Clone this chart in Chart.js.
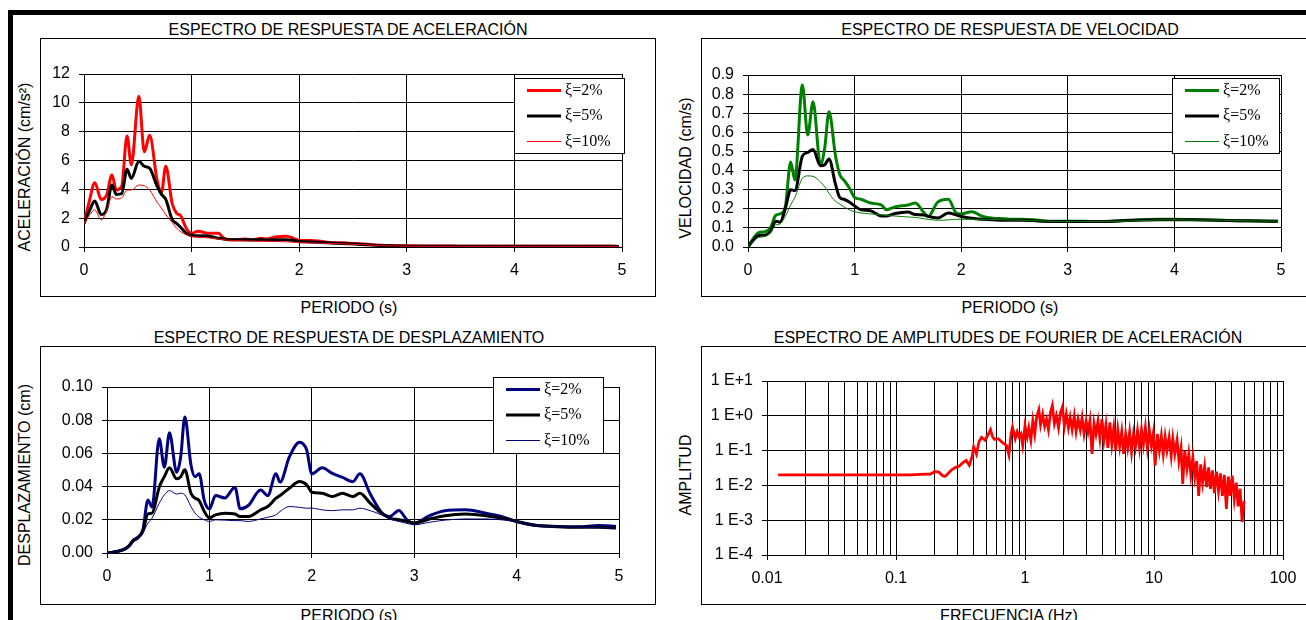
<!DOCTYPE html>
<html lang="es">
<head>
<meta charset="utf-8">
<title>Espectros de respuesta y espectro de Fourier</title>
<script src="https://cdn.jsdelivr.net/npm/chart.js@4.4.1/dist/chart.umd.min.js"></script>
<style>
  html, body { margin: 0; padding: 0; background: #fff; overflow: hidden; }
  body { position: relative; width: 1306px; height: 620px; font-family: "Liberation Sans", Arial, sans-serif; font-size: 16px; color: #000; }
  #marco { position: absolute; left: 8px; top: 10px; width: 1400px; height: 700px; border-top: 5px solid #000; border-left: 5px solid #000; }
  .caja { position: absolute; border: 1px solid #000; box-sizing: border-box; }
  .caja canvas { position: absolute; left: 0; top: 0; }
  .texto { position: absolute; white-space: nowrap; line-height: 1; transform: translate(-50%, -50%); }
  .vertical { transform: translate(-50%, -50%) rotate(-90deg); }
</style>
</head>
<body>
<div id="marco"></div>

<!-- Aceleracion -->
<div class="texto" style="left:348px; top:30px">ESPECTRO DE RESPUESTA DE ACELERACIÓN</div>
<div class="caja" style="left:40px; top:38px; width:616px; height:259px">
  <canvas id="graficoAceleracion" width="614" height="257"></canvas>
</div>
<div class="texto vertical" style="left:25px; top:167px">ACELERACIÓN (cm/s²)</div>
<div class="texto" style="left:349px; top:308px">PERIODO (s)</div>

<!-- Velocidad -->
<div class="texto" style="left:1010px; top:30px">ESPECTRO DE RESPUESTA DE VELOCIDAD</div>
<div class="caja" style="left:701px; top:38px; width:618px; height:259px">
  <canvas id="graficoVelocidad" width="616" height="257"></canvas>
</div>
<div class="texto vertical" style="left:686px; top:168px">VELOCIDAD (cm/s)</div>
<div class="texto" style="left:1010px; top:308px">PERIODO (s)</div>

<!-- Desplazamiento -->
<div class="texto" style="left:349px; top:338px">ESPECTRO DE RESPUESTA DE DESPLAZAMIENTO</div>
<div class="caja" style="left:40px; top:346px; width:616px; height:259px">
  <canvas id="graficoDesplazamiento" width="614" height="257"></canvas>
</div>
<div class="texto vertical" style="left:25px; top:475px">DESPLAZAMIENTO (cm)</div>
<div class="texto" style="left:349px; top:616px">PERIODO (s)</div>

<!-- Fourier -->
<div class="texto" style="left:1008px; top:338px">ESPECTRO DE AMPLITUDES DE FOURIER DE ACELERACIÓN</div>
<div class="caja" style="left:701px; top:346px; width:618px; height:259px">
  <canvas id="graficoFourier" width="616" height="257"></canvas>
</div>
<div class="texto vertical" style="left:686px; top:475px">AMPLITUD</div>
<div class="texto" style="left:1009px; top:616px">FRECUENCIA (Hz)</div>

<script>
// Periodos (s) comunes a los tres espectros de respuesta
const periodos = [0, 0.05, 0.10, 0.16, 0.21, 0.26, 0.30, 0.35, 0.40, 0.44, 0.51, 0.56, 0.61, 0.68, 0.72, 0.76, 0.82, 0.86, 0.90, 0.95,
  1.00, 1.06, 1.15, 1.25, 1.30, 1.38, 1.50, 1.57, 1.65, 1.69, 1.78, 1.88, 1.95, 2.00, 2.10, 2.20, 2.30, 2.40, 2.47, 2.57,
  2.68, 2.76, 2.85, 2.93, 3.00, 3.15, 3.30, 3.50, 3.70, 3.85, 4.00, 4.20, 4.40, 4.60, 4.80, 4.97];

const etiquetasAmort = ["ξ=2%", "ξ=5%", "ξ=10%"];

// Aceleracion (cm/s2)
const acel2 = [1.64, 3.2, 4.46, 3.3, 3.6, 5.0, 3.95, 4.2, 7.7, 5.7, 10.45, 6.6, 7.75, 4.6, 3.8, 5.6, 3.0, 2.35, 2.15, 1.3,
  0.95, 1.1, 0.95, 0.95, 0.6, 0.5, 0.55, 0.5, 0.6, 0.55, 0.7, 0.75, 0.6, 0.45, 0.45, 0.4, 0.3, 0.3, 0.25, 0.22,
  0.15, 0.12, 0.1, 0.09, 0.08, 0.07, 0.07, 0.06, 0.06, 0.05, 0.06, 0.05, 0.05, 0.05, 0.05, 0.04];
const acel5 = [1.64, 2.5, 3.19, 2.25, 2.6, 4.3, 3.65, 3.7, 5.39, 4.76, 5.95, 5.6, 5.46, 4.2, 3.65, 3.3, 1.9, 1.64, 1.35, 0.95,
  0.8, 0.78, 0.76, 0.6, 0.55, 0.5, 0.5, 0.5, 0.5, 0.48, 0.5, 0.5, 0.45, 0.38, 0.35, 0.32, 0.28, 0.25, 0.22, 0.18,
  0.13, 0.1, 0.08, 0.07, 0.06, 0.06, 0.05, 0.05, 0.05, 0.05, 0.05, 0.05, 0.05, 0.05, 0.05, 0.04];
const acel10 = [1.64, 2.2, 2.57, 1.87, 2.5, 3.49, 3.33, 3.4, 3.95, 3.95, 4.3, 4.25, 3.95, 3.1, 2.7, 2.25, 1.7, 1.3, 1.05, 0.85,
  0.72, 0.68, 0.63, 0.55, 0.5, 0.45, 0.42, 0.4, 0.4, 0.4, 0.38, 0.36, 0.33, 0.3, 0.28, 0.26, 0.24, 0.22, 0.2, 0.17,
  0.13, 0.1, 0.08, 0.07, 0.06, 0.05, 0.05, 0.05, 0.05, 0.05, 0.05, 0.05, 0.05, 0.05, 0.05, 0.04];

// Velocidad (cm/s)
const vel2 = [0, 0.045, 0.075, 0.08, 0.1, 0.165, 0.173, 0.21, 0.445, 0.35, 0.848, 0.586, 0.76, 0.43, 0.52, 0.708, 0.48, 0.38, 0.35, 0.31,
  0.26, 0.25, 0.23, 0.22, 0.195, 0.21, 0.22, 0.23, 0.18, 0.16, 0.235, 0.25, 0.18, 0.173, 0.185, 0.16, 0.15, 0.148, 0.145, 0.145,
  0.143, 0.138, 0.135, 0.135, 0.135, 0.135, 0.133, 0.138, 0.143, 0.145, 0.145, 0.143, 0.14, 0.138, 0.136, 0.135];
const vel5 = [0, 0.035, 0.06, 0.062, 0.08, 0.135, 0.13, 0.2, 0.3, 0.295, 0.475, 0.495, 0.51, 0.425, 0.43, 0.46, 0.33, 0.26, 0.25, 0.235,
  0.215, 0.195, 0.19, 0.162, 0.162, 0.175, 0.183, 0.17, 0.168, 0.16, 0.152, 0.178, 0.168, 0.16, 0.15, 0.145, 0.142, 0.14, 0.14, 0.14,
  0.138, 0.135, 0.133, 0.133, 0.133, 0.134, 0.133, 0.137, 0.141, 0.143, 0.143, 0.142, 0.14, 0.138, 0.136, 0.135];
const vel10 = [0, 0.03, 0.05, 0.055, 0.075, 0.115, 0.12, 0.16, 0.22, 0.26, 0.36, 0.372, 0.37, 0.34, 0.315, 0.28, 0.24, 0.225, 0.21, 0.195,
  0.185, 0.178, 0.173, 0.168, 0.165, 0.162, 0.157, 0.155, 0.148, 0.145, 0.14, 0.142, 0.145, 0.145, 0.145, 0.145, 0.144, 0.142, 0.141, 0.14,
  0.138, 0.136, 0.134, 0.133, 0.133, 0.133, 0.133, 0.135, 0.139, 0.141, 0.142, 0.141, 0.14, 0.138, 0.136, 0.135];

// Desplazamiento (cm)
const desp2 = [0, 0.0003, 0.001, 0.002, 0.004, 0.008, 0.0095, 0.014, 0.032, 0.0276, 0.0688, 0.0517, 0.0724, 0.0487, 0.058, 0.082, 0.053, 0.046, 0.0477, 0.0316,
  0.0266, 0.0346, 0.0332, 0.0396, 0.0266, 0.0286, 0.038, 0.0346, 0.0477, 0.0427, 0.0577, 0.0667, 0.062, 0.0477, 0.0513, 0.048, 0.0455, 0.043, 0.0477, 0.0357,
  0.0246, 0.022, 0.0256, 0.02, 0.018, 0.0225, 0.0255, 0.026, 0.024, 0.022, 0.019, 0.0165, 0.016, 0.0158, 0.0165, 0.016];
const desp5 = [0, 0.0003, 0.001, 0.002, 0.004, 0.0075, 0.009, 0.013, 0.0236, 0.024, 0.0396, 0.046, 0.0513, 0.0447, 0.046, 0.0501, 0.036, 0.033, 0.0316, 0.025,
  0.0212, 0.023, 0.024, 0.0235, 0.022, 0.022, 0.026, 0.028, 0.033, 0.0346, 0.039, 0.043, 0.041, 0.0366, 0.036, 0.034, 0.036, 0.034, 0.036, 0.03,
  0.024, 0.021, 0.02, 0.019, 0.018, 0.0205, 0.0225, 0.0235, 0.0225, 0.021, 0.019, 0.0165, 0.0158, 0.0155, 0.0155, 0.015];
const desp10 = [0, 0.0003, 0.001, 0.002, 0.004, 0.007, 0.0085, 0.012, 0.018, 0.021, 0.03, 0.035, 0.0376, 0.0355, 0.036, 0.035, 0.028, 0.024, 0.0216, 0.02,
  0.019, 0.02, 0.0198, 0.0195, 0.0195, 0.019, 0.0205, 0.0215, 0.023, 0.025, 0.028, 0.0275, 0.027, 0.027, 0.026, 0.0255, 0.026, 0.026, 0.027, 0.0255,
  0.023, 0.0205, 0.019, 0.0178, 0.017, 0.0185, 0.0198, 0.0205, 0.0205, 0.02, 0.019, 0.0165, 0.0158, 0.0155, 0.0152, 0.015];

// Espectro de Fourier: frecuencia (Hz) y amplitud
const frecuencias = [0.0122, 0.05, 0.10, 0.13, 0.17, 0.185, 0.20, 0.215, 0.23, 0.24, 0.25, 0.27, 0.29, 0.31, 0.33, 0.35, 0.37, 0.39, 0.40, 0.42,
  0.44, 0.46, 0.49, 0.52, 0.54, 0.56, 0.58, 0.62, 0.67, 0.72, 0.75, 0.78, 0.80, 0.84, 0.87, 0.90, 0.93, 0.96,
  1.00, 1.04, 1.07, 1.11, 1.15, 1.19, 1.23, 1.28, 1.32, 1.37, 1.42, 1.47, 1.52, 1.58, 1.63, 1.69, 1.75, 1.82, 1.88, 1.95,
  2.02, 2.09, 2.17, 2.24, 2.32, 2.41, 2.49, 2.58, 2.68, 2.77, 2.87, 2.98, 3.08, 3.19, 3.31, 3.43, 3.55, 3.68, 3.81, 3.95,
  4.09, 4.24, 4.39, 4.55, 4.71, 4.88, 5.05, 5.24, 5.42, 5.62, 5.82, 6.03, 6.25, 6.47, 6.70, 6.94, 7.19, 7.45, 7.72, 8.00,
  8.28, 8.58, 8.89, 9.21, 9.54, 9.88, 10.2, 10.6, 11.0, 11.4, 11.8, 12.2, 12.6, 13.1, 13.6, 14.0, 14.5, 15.1, 15.6, 16.2,
  16.7, 17.3, 18.0, 18.6, 19.3, 20.0, 20.7, 21.4, 22.2, 23.0, 23.8, 24.7, 25.6, 26.5, 27.4, 28.4, 29.4, 30.5, 31.6, 32.7,
  33.9, 35.1, 36.4, 37.7, 39.0, 40.4, 41.9, 43.4, 44.9, 46.5, 48.2, 49.9];
const amplitudes = [0.02, 0.02, 0.02, 0.02, 0.021, 0.021, 0.025, 0.024, 0.019, 0.018, 0.021, 0.028, 0.033, 0.036, 0.045, 0.052, 0.038, 0.07, 0.13, 0.08,
  0.18, 0.24, 0.2, 0.3, 0.4, 0.25, 0.21, 0.22, 0.17, 0.14, 0.075, 0.3, 0.47, 0.22, 0.35, 0.25, 0.3, 0.14,
  0.52, 0.25, 0.45, 0.2, 0.72, 0.3, 0.9, 1.5, 0.55, 1.1, 0.5, 0.8, 0.4, 1.3, 2.0, 0.6, 1.0, 0.45, 1.2, 1.8,
  0.5, 1.1, 0.45, 0.9, 0.4, 1.0, 0.35, 0.8, 0.4, 0.9, 0.3, 0.7, 0.35, 0.75, 0.08, 0.6, 0.3, 0.7, 0.22, 0.8,
  0.2, 0.55, 0.12, 0.65, 0.15, 0.45, 0.1, 0.4, 0.13, 0.35, 0.08, 0.3, 0.12, 0.34, 0.09, 0.3, 0.13, 0.38, 0.12, 0.4,
  0.15, 0.47, 0.12, 0.38, 0.14, 0.32, 0.037, 0.3, 0.1, 0.27, 0.08, 0.25, 0.1, 0.24, 0.07, 0.22, 0.08, 0.2, 0.05, 0.12,
  0.011, 0.1, 0.03, 0.08, 0.02, 0.065, 0.018, 0.05, 0.005, 0.04, 0.012, 0.035, 0.009, 0.033, 0.008, 0.027, 0.006, 0.025, 0.007, 0.022,
  0.005, 0.02, 0.0021, 0.018, 0.005, 0.019, 0.004, 0.012, 0.0025, 0.008, 0.0009, 0.0036];

// Ejes logaritmicos del espectro de Fourier
const decadasFrecuencia = [0.01, 0.1, 1, 10, 100];
const etiquetasFrecuencia = ["0.01", "0.1", "1", "10", "100"];
const decadasAmplitud = [1e-4, 1e-3, 1e-2, 1e-1, 1, 10];
const etiquetasAmplitud = ["1 E-4", "1 E-3", "1 E-2", "1 E-1", "1 E+0", "1 E+1"];

Chart.defaults.font.family = '"Liberation Sans", Arial, sans-serif';
Chart.defaults.font.size = 16;
Chart.defaults.color = "#000";

function puntos(xs, ys) {
  return xs.map((x, i) => ({ x: x, y: ys[i] }));
}

// Leyenda dibujada dentro del grafico, como en Excel
const leyendaInterna = {
  id: "leyendaInterna",
  afterDatasetsDraw(chart, args, op) {
    if (!op || op.x === undefined) return;
    const ctx = chart.ctx;
    ctx.save();
    ctx.fillStyle = "#fff";
    ctx.fillRect(op.x, op.y, op.ancho, op.alto);
    ctx.strokeStyle = "#000";
    ctx.lineWidth = 1;
    ctx.strokeRect(op.x + 0.5, op.y + 0.5, op.ancho - 1, op.alto - 1);
    ctx.font = '16px "Liberation Serif", "Times New Roman", serif';
    ctx.textBaseline = "middle";
    chart.data.datasets.forEach((ds, i) => {
      const yy = op.y + 12.5 + i * 25.5;
      ctx.strokeStyle = ds.borderColor;
      ctx.lineWidth = ds.borderWidth;
      ctx.beginPath();
      ctx.moveTo(op.x + 13, yy);
      ctx.lineTo(op.x + 47, yy);
      ctx.stroke();
      ctx.fillStyle = "#000";
      ctx.fillText(ds.label, op.x + 51, yy);
    });
    ctx.restore();
  },
};

function graficarEspectro(idCanvas, series, color, ejeY, area, leyenda) {
  const grosores = [3, 3, 1];
  const datasets = series.map((serie, i) => ({
    label: etiquetasAmort[i],
    data: puntos(periodos, serie),
    borderColor: i === 1 ? "#000000" : color,
    borderWidth: grosores[i],
    pointRadius: 0,
    cubicInterpolationMode: "monotone",
    order: 3 - i,
  }));

  new Chart(document.getElementById(idCanvas), {
    type: "line",
    data: { datasets: datasets },
    plugins: [leyendaInterna],
    options: {
      responsive: false,
      animation: false,
      events: [],
      layout: { padding: { top: area.arriba, right: area.derecha, left: 0, bottom: 0 } },
      plugins: {
        legend: { display: false },
        tooltip: { enabled: false },
        leyendaInterna: leyenda,
      },
      scales: {
        x: {
          type: "linear",
          min: 0,
          max: 5,
          ticks: { stepSize: 1, padding: 9, maxRotation: 0, autoSkip: false },
          grid: { color: "#000", tickLength: 5 },
          border: { color: "#000" },
          afterFit: (escala) => { escala.height = area.abajo; },
        },
        y: {
          type: "linear",
          min: 0,
          max: ejeY.max,
          ticks: { stepSize: ejeY.paso, padding: 9, autoSkip: false, callback: (v) => Number(v).toFixed(ejeY.decimales) },
          grid: { color: "#000", tickLength: 5 },
          border: { color: "#000" },
          afterFit: (escala) => { escala.width = area.izquierda; },
        },
      },
    },
  });
}

function graficarFourier() {
  // lineas de division 1..9 por decada
  const lineasFrecuencia = [];
  decadasFrecuencia.forEach((d) => {
    for (let k = 1; k <= 9; k++) {
      if (d * k <= 100) lineasFrecuencia.push(Number((d * k).toPrecision(3)));
    }
  });

  new Chart(document.getElementById("graficoFourier"), {
    type: "line",
    data: {
      datasets: [{
        label: "Amplitud",
        data: puntos(frecuencias, amplitudes),
        borderColor: "#FF0000",
        borderWidth: 2.75,
        pointRadius: 0,
        tension: 0,
      }],
    },
    options: {
      responsive: false,
      animation: false,
      events: [],
      layout: { padding: { top: 34, right: 35, left: 0, bottom: 0 } },
      plugins: { legend: { display: false }, tooltip: { enabled: false } },
      scales: {
        x: {
          type: "logarithmic",
          min: 0.01,
          max: 100,
          afterBuildTicks: (escala) => {
            escala.ticks = lineasFrecuencia.map((v) => ({
              value: v,
              major: decadasFrecuencia.some((d) => Math.abs(v / d - 1) < 1e-6),
            }));
          },
          ticks: {
            autoSkip: false,
            maxRotation: 0,
            padding: 9,
            callback: (v) => {
              const i = decadasFrecuencia.findIndex((d) => Math.abs(v / d - 1) < 1e-6);
              return i >= 0 ? etiquetasFrecuencia[i] : "";
            },
          },
          grid: {
            color: "#000",
            tickLength: 5,
            tickColor: (c) => (c.tick && c.tick.major ? "#000" : "rgba(0,0,0,0)"),
          },
          border: { color: "#000" },
          afterFit: (escala) => { escala.height = 49; },
        },
        y: {
          type: "logarithmic",
          min: 1e-4,
          max: 10,
          afterBuildTicks: (escala) => {
            escala.ticks = decadasAmplitud.map((v) => ({ value: v }));
          },
          ticks: { autoSkip: false, padding: 9, callback: (v, i) => etiquetasAmplitud[i] },
          grid: { color: "#000", tickLength: 5 },
          border: { color: "#000" },
          afterFit: (escala) => { escala.width = 65; },
        },
      },
    },
  });
}

graficarEspectro("graficoAceleracion", [acel2, acel5, acel10], "#FF0000",
  { max: 12, paso: 2, decimales: 0 },
  { izquierda: 43, arriba: 35, derecha: 33, abajo: 49 },
  { x: 473, y: 39, ancho: 111, alto: 76 });

graficarEspectro("graficoVelocidad", [vel2, vel5, vel10], "#008000",
  { max: 0.9, paso: 0.1, decimales: 1 },
  { izquierda: 46, arriba: 36, derecha: 37, abajo: 49 },
  { x: 470, y: 39, ancho: 108, alto: 76 });

graficarEspectro("graficoDesplazamiento", [desp2, desp5, desp10], "#000080",
  { max: 0.1, paso: 0.02, decimales: 2 },
  { izquierda: 66, arriba: 40, derecha: 36, abajo: 51 },
  { x: 452, y: 30, ancho: 111, alto: 77 });

graficarFourier();
</script>
</body>
</html>
